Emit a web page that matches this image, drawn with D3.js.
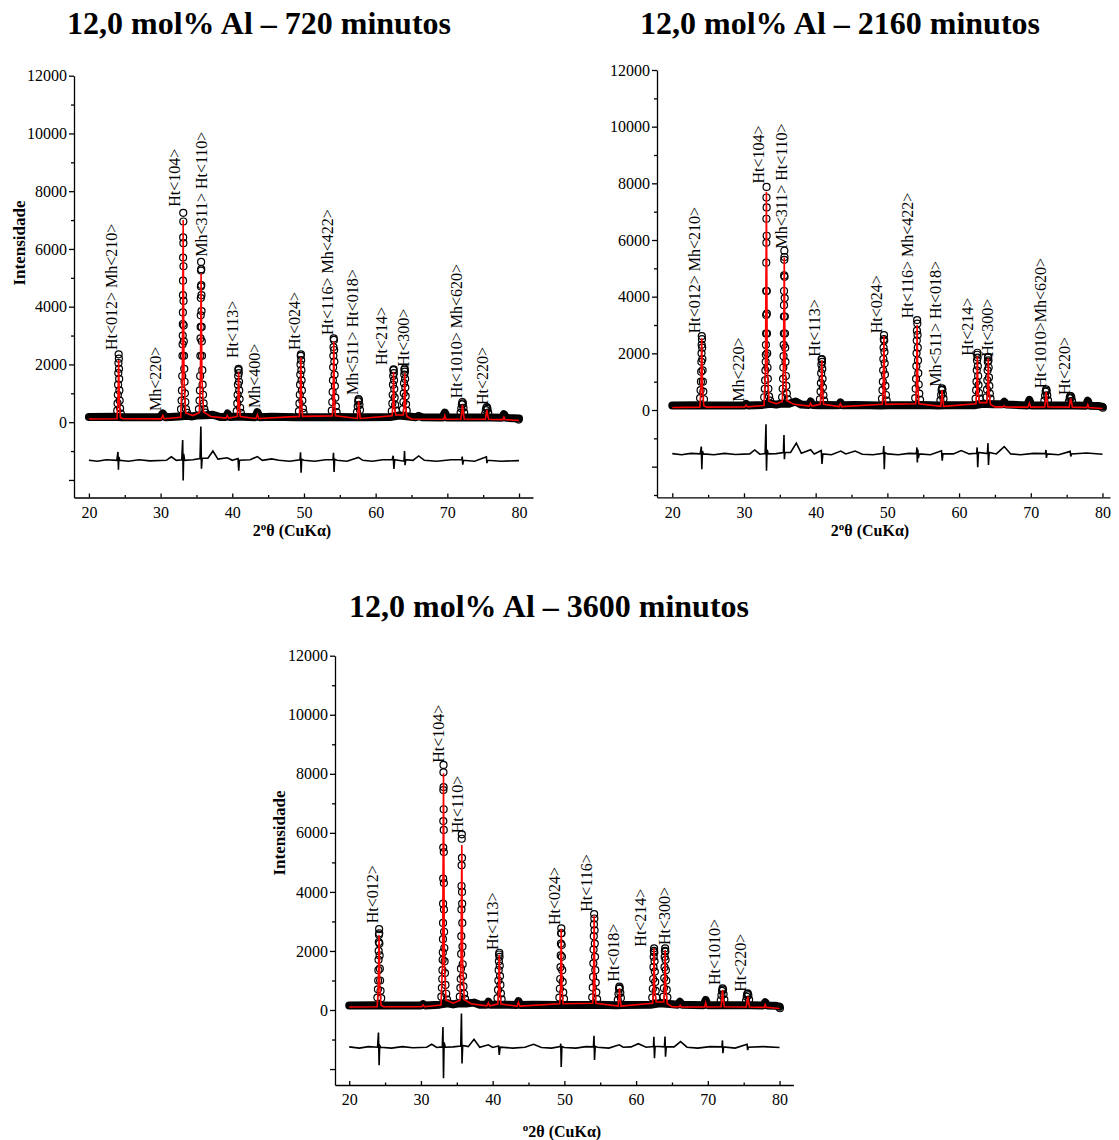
<!DOCTYPE html>
<html>
<head>
<meta charset="utf-8">
<script src="https://cdnjs.cloudflare.com/ajax/libs/d3/7.8.5/d3.min.js"></script>
<style>
  body { margin: 0; background: #fff; }
  svg { display: block; }
</style>
</head>
<body>
<svg id="chart" width="1119" height="1140"></svg>
<script>
// -----------------------------
// DATA
// -----------------------------
let titles = ["12,0 mol% Al \u2013 720 minutos", "12,0 mol% Al \u2013 2160 minutos", "12,0 mol% Al \u2013 3600 minutos"];

let xTicks = [20, 30, 40, 50, 60, 70, 80];
let xMinor = [25, 35, 45, 55, 65, 75];
let yTicks = [-2000, 0, 2000, 4000, 6000, 8000, 10000, 12000];
let yMinor = [-3000, -1000, 1000, 3000, 5000, 7000, 9000, 11000];

// ---- 720 minutos ----
let band720 = [[20,180],[23.6,185],[24.5,175],[29.9,170],[30.3,300],[30.7,170],[32.6,200],[33.7,220],[34.4,200],[35.0,230],[36.3,240],[37.3,260],[38.3,180],[39.1,180],[39.35,300],[39.6,180],[40.4,190],[41.4,190],[43.2,170],[43.5,350],[43.8,170],[45.5,190],[49.0,170],[50.1,170],[53.6,170],[54.8,180],[57.2,170],[58.1,170],[62.0,180],[63.3,230],[64.6,200],[65.6,170],[66.0,220],[66.5,170],[69.3,160],[69.65,330],[70.0,160],[71.7,160],[72.6,160],[75.1,160],[76.0,160],[77.6,150],[77.9,280],[78.2,150],[80,130]];

let obs720 = [
  [23.95,400],[24.0,650],[24.04,950],[24.07,1300],[24.1,1700],[24.12,2050],[24.15,2350],[24.18,2200],[24.2,1850],[24.22,1500],[24.25,1100],[24.29,750],[24.35,480],[24.45,300],
  [32.85,450],[32.93,750],[32.98,1100],[33.02,1600],[33.05,2300],[33.07,2700],[33.09,3000],[33.1,3400],[33.11,3800],[33.12,4400],[33.13,4900],[33.14,5700],[33.15,6400],[33.16,7250],[33.17,6950],[33.18,6200],[33.19,5400],[33.2,4200],[33.22,3350],[33.24,2800],[33.27,2300],[33.3,1850],[33.34,1400],[33.39,1000],[33.45,700],[33.55,450],[33.7,320],
  [35.35,450],[35.43,750],[35.48,1100],[35.52,1600],[35.55,2300],[35.57,2900],[35.59,3300],[35.6,3700],[35.61,4300],[35.62,4700],[35.64,5250],[35.65,5550],[35.67,5300],[35.68,4750],[35.7,4400],[35.71,3850],[35.73,3300],[35.75,2800],[35.78,2300],[35.82,1800],[35.86,1300],[35.92,950],[36.0,650],[36.1,450],[36.25,330],
  [40.62,380],[40.7,650],[40.75,950],[40.79,1300],[40.82,1600],[40.85,1800],[40.88,1850],[40.91,1700],[40.94,1400],[40.97,1100],[41.02,800],[41.1,500],[41.2,320],
  [49.3,380],[49.37,650],[49.42,950],[49.46,1300],[49.49,1650],[49.52,2000],[49.55,2300],[49.58,2350],[49.61,2150],[49.64,1800],[49.67,1450],[49.71,1100],[49.77,750],[49.85,480],[49.95,320],
  [53.88,400],[53.95,700],[54.0,1050],[54.04,1450],[54.07,1900],[54.1,2300],[54.12,2600],[54.15,2900],[54.18,2850],[54.21,2500],[54.24,2100],[54.27,1650],[54.31,1250],[54.37,850],[54.45,550],[54.55,350],
  [57.4,350],[57.5,550],[57.57,720],[57.62,800],[57.67,760],[57.74,600],[57.82,420],
  [62.25,380],[62.33,650],[62.38,950],[62.42,1300],[62.45,1600],[62.48,1800],[62.51,1830],[62.54,1700],[62.57,1450],[62.6,1150],[62.65,850],[62.72,600],[62.82,400],
  [63.8,450],[63.87,700],[63.92,1000],[63.96,1350],[63.99,1650],[64.02,1820],[64.05,1860],[64.08,1750],[64.11,1500],[64.14,1200],[64.18,900],[64.24,620],[64.33,400],
  [71.85,320],[71.95,480],[72.03,620],[72.1,700],[72.17,650],[72.25,500],[72.35,330],
  [75.28,300],[75.38,420],[75.45,500],[75.52,520],[75.6,460],[75.7,330],
  [79.95,90]
];

let calc720 = [[20,110],[23.9,120],[24.05,700],[24.15,2150],[24.25,700],[24.4,160],[24.8,120],[30.1,115],[30.3,230],[30.5,120],[32.8,170],[33.03,1500],[33.15,7000],[33.27,1500],[33.5,320],[34.5,230],[35.4,330],[35.55,1500],[35.65,5150],[35.77,1500],[36.0,350],[37.0,200],[39.1,140],[39.3,230],[39.5,140],[40.7,200],[40.8,700],[40.88,1750],[40.97,700],[41.1,200],[43.3,130],[43.5,260],[43.7,130],[49.35,200],[49.47,700],[49.56,2250],[49.66,700],[49.8,200],[53.95,220],[54.07,800],[54.16,2800],[54.25,800],[54.4,220],[57.45,130],[57.57,450],[57.63,720],[57.7,450],[57.85,130],[62.3,220],[62.42,600],[62.5,1750],[62.58,600],[62.8,250],[63.85,250],[63.97,600],[64.06,1700],[64.15,600],[64.35,200],[65.0,110],[69.5,100],[69.65,230],[69.8,100],[71.9,110],[72.05,400],[72.11,600],[72.2,400],[72.35,110],[75.3,100],[75.46,330],[75.52,430],[75.6,300],[75.75,100],[77.75,90],[77.9,180],[78.05,90],[80,60]];

let diff720 = [[20,-1320],[21.2,-1350],[22.4,-1300],[23.9,-1320],[24.05,-1030],[24.12,-1650],[24.18,-1200],[24.3,-1320],[25.5,-1350],[27.0,-1300],[28.5,-1340],[30.8,-1320],[31.5,-1200],[32.2,-1320],[32.95,-1300],[33.08,-620],[33.15,-2020],[33.22,-1100],[33.35,-1320],[34.5,-1300],[35.5,-1260],[35.62,-150],[35.7,-1610],[35.8,-1250],[36.6,-1250],[37.3,-1000],[38.0,-1280],[39.3,-1230],[40.0,-1320],[40.8,-1260],[40.9,-1680],[41.0,-1320],[42.5,-1300],[43.5,-1190],[44.2,-1320],[45.5,-1270],[46.5,-1320],[48.0,-1350],[49.45,-1300],[49.52,-1040],[49.6,-1750],[49.68,-1280],[50.0,-1320],[51.5,-1350],[53.0,-1300],[54.05,-1300],[54.12,-1060],[54.2,-1720],[54.28,-1280],[54.6,-1320],[56.0,-1350],[57.6,-1220],[58.2,-1320],[59.5,-1350],[61.0,-1300],[62.3,-1300],[62.45,-1160],[62.55,-1620],[62.65,-1300],[63.95,-1350],[64.03,-1000],[64.1,-1490],[64.2,-1300],[65.2,-1320],[66.0,-1170],[66.8,-1320],[68.5,-1350],[70.5,-1300],[72.0,-1300],[72.08,-1190],[72.15,-1470],[72.25,-1320],[73.8,-1350],[75.45,-1200],[75.52,-1420],[75.6,-1320],[77.5,-1350],[80,-1330]];

let lab720 = [
  ["Ht<012> Mh<210>", 23.96, 2500], ["Mh<220>", 30.05, 390], ["Ht<104>", 32.7, 7460],
  ["Mh<311> Ht<110>", 36.47, 5730], ["Ht<113>", 40.8, 2220], ["Mh<400>", 43.87, 490],
  ["Ht<024>", 49.44, 2500], ["Ht<116> Mh<422>", 54.0, 3020], ["Mh<511> Ht<018>", 57.57, 940],
  ["Ht<214>", 61.53, 1980], ["Ht<300>", 64.69, 1920], ["Ht<1010> Mh<620>", 72.0, 830], ["Ht<220>", 75.7, 595]
];

// ---- 2160 minutos ----
let band2160 = [[20,160],[23.6,165],[24.5,160],[30.0,155],[30.3,220],[30.6,160],[32.6,180],[33.7,220],[34.5,190],[35.0,220],[36.3,220],[37.2,300],[38.0,190],[39.05,180],[39.3,300],[39.55,180],[40.5,170],[41.3,180],[43.2,170],[43.45,270],[43.7,170],[45.5,180],[49.1,160],[50.1,170],[53.7,170],[54.8,180],[57.2,160],[58.1,170],[62.1,170],[63.3,220],[64.7,200],[66.0,200],[66.3,290],[66.6,190],[69.5,160],[69.8,360],[70.1,160],[71.8,160],[72.7,160],[75.2,160],[76.0,160],[77.7,150],[77.95,330],[78.2,150],[79.4,140],[80,120]];

let obs2160 = [
  [23.88,420],[23.95,700],[24.0,1000],[24.03,1350],[24.06,1700],[24.08,2000],[24.1,2300],[24.12,2610],[24.14,2500],[24.17,2200],[24.2,1800],[24.23,1400],[24.27,1000],[24.33,650],[24.42,380],
  [32.82,450],[32.9,750],[32.95,1050],[32.99,1400],[33.02,1700],[33.04,1950],[33.06,2300],[33.08,2700],[33.09,3350],[33.1,4200],[33.11,5200],[33.12,5900],[33.13,6750],[33.14,7500],[33.15,7875],[33.16,7150],[33.17,6150],[33.18,4200],[33.19,3400],[33.21,2700],[33.24,2000],[33.28,1500],[33.33,1100],[33.4,750],[33.5,480],[33.65,330],
  [35.32,450],[35.4,750],[35.45,1100],[35.49,1500],[35.52,1900],[35.54,2300],[35.56,2700],[35.57,3300],[35.58,3700],[35.59,4200],[35.6,4750],[35.62,5300],[35.63,5620],[35.65,5400],[35.66,4700],[35.68,3950],[35.7,3300],[35.72,2700],[35.75,2200],[35.79,1700],[35.84,1200],[35.9,850],[35.98,580],[36.1,380],
  [40.6,380],[40.68,650],[40.73,950],[40.77,1300],[40.8,1600],[40.83,1780],[40.86,1800],[40.89,1700],[40.92,1450],[40.96,1100],[41.01,800],[41.08,520],[41.18,330],
  [49.25,400],[49.32,700],[49.37,1000],[49.41,1400],[49.44,1800],[49.47,2200],[49.5,2500],[49.53,2645],[49.56,2450],[49.59,2050],[49.62,1650],[49.66,1250],[49.72,850],[49.8,530],[49.9,330],
  [53.88,420],[53.95,750],[54.0,1100],[54.04,1550],[54.07,2000],[54.1,2450],[54.12,2800],[54.15,3175],[54.18,3050],[54.21,2650],[54.24,2200],[54.27,1750],[54.31,1300],[54.37,900],[54.45,580],[54.56,360],
  [57.4,340],[57.5,530],[57.57,700],[57.62,765],[57.67,720],[57.74,570],[57.83,400],
  [62.3,400],[62.38,700],[62.43,1000],[62.47,1400],[62.5,1750],[62.53,1950],[62.56,2020],[62.59,1850],[62.62,1550],[62.66,1200],[62.71,880],[62.78,600],[62.88,400],
  [63.82,450],[63.89,720],[63.94,1050],[63.98,1400],[64.01,1700],[64.04,1850],[64.07,1880],[64.1,1750],[64.13,1500],[64.17,1150],[64.22,850],[64.29,580],[64.38,400],
  [71.9,330],[72.0,500],[72.08,650],[72.15,730],[72.22,680],[72.3,520],[72.4,340],
  [75.33,300],[75.43,420],[75.5,480],[75.57,495],[75.65,440],[75.75,320],
  [80.05,80]
];

let calc2160 = [[20,90],[23.85,100],[24.0,750],[24.11,2530],[24.22,750],[24.4,140],[24.8,100],[30.1,110],[30.3,176],[30.5,110],[32.8,160],[33.0,1500],[33.13,7700],[33.25,1500],[33.5,300],[34.5,220],[35.35,300],[35.5,1500],[35.62,5385],[35.74,1500],[36.0,330],[37.0,200],[39.1,140],[39.3,240],[39.5,140],[40.65,200],[40.76,700],[40.86,1750],[40.96,700],[41.1,200],[43.25,120],[43.45,220],[43.65,120],[49.3,200],[49.42,750],[49.52,2600],[49.62,750],[49.78,200],[53.95,220],[54.06,850],[54.15,3000],[54.25,850],[54.4,220],[57.45,130],[57.56,430],[57.63,700],[57.7,430],[57.85,130],[62.35,220],[62.46,650],[62.55,1900],[62.64,650],[62.85,260],[63.87,260],[63.98,650],[64.07,1820],[64.16,650],[64.38,200],[65.0,110],[66.1,110],[66.3,150],[66.5,105],[69.6,100],[69.8,240],[70.0,100],[71.95,110],[72.08,420],[72.15,645],[72.23,420],[72.4,110],[75.35,100],[75.5,320],[75.57,410],[75.65,300],[75.8,100],[77.8,90],[77.95,190],[78.1,90],[80,55]];

let diff2160 = [[20,-1540],[21.3,-1580],[22.6,-1530],[23.9,-1550],[24.05,-1290],[24.12,-2090],[24.2,-1450],[24.35,-1550],[25.8,-1580],[27.3,-1530],[28.8,-1570],[30.8,-1550],[31.5,-1410],[32.2,-1560],[32.95,-1540],[33.07,-500],[33.14,-2140],[33.22,-1400],[33.4,-1550],[34.5,-1540],[35.5,-1500],[35.58,-880],[35.64,-1740],[35.72,-1500],[36.5,-1500],[37.3,-1170],[38.0,-1530],[39.3,-1400],[39.8,-1550],[40.78,-1430],[40.88,-1900],[41.0,-1550],[42.2,-1580],[43.5,-1450],[44.2,-1550],[45.5,-1450],[46.5,-1560],[48.0,-1580],[49.42,-1530],[49.5,-1270],[49.57,-2090],[49.65,-1500],[50.0,-1550],[51.5,-1580],[53.0,-1530],[54.05,-1540],[54.12,-1320],[54.18,-1850],[54.25,-1400],[54.32,-1700],[54.45,-1550],[56.0,-1580],[57.55,-1440],[57.65,-1790],[57.75,-1550],[59.2,-1550],[60.3,-1430],[61.4,-1550],[62.45,-1530],[62.52,-1320],[62.6,-2020],[62.7,-1500],[63.95,-1540],[64.03,-1170],[64.1,-1940],[64.2,-1500],[65.2,-1550],[66.3,-1290],[67.2,-1550],[68.6,-1580],[70.4,-1530],[72.05,-1540],[72.12,-1410],[72.18,-1690],[72.28,-1550],[73.9,-1580],[75.5,-1460],[75.58,-1640],[75.68,-1550],[77.8,-1520],[80,-1560]];

let lab2160 = [
  ["Ht<012> Mh<210>", 23.86, 2705], ["Mh<220>", 30.0, 293], ["Ht<104>", 32.79, 7995],
  ["Mh<311> Ht<110>", 35.96, 5700], ["Ht<113>", 40.6, 1880], ["Ht<024>", 49.2, 2705],
  ["Ht<116> Mh<422>", 53.6, 3234], ["Mh<511> Ht<018>", 57.43, 822], ["Ht<214>", 61.9, 1915],
  ["Ht<300>", 64.77, 1880], ["Ht<1010>Mh<620>", 72.12, 765], ["Ht<220>", 75.45, 530]
];

// ---- 3600 minutos ----
let band3600 = [[20,150],[23.7,160],[24.6,150],[30.0,150],[30.3,200],[30.6,150],[32.6,180],[33.7,230],[34.5,190],[35.1,220],[36.3,220],[37.4,250],[38.2,180],[39.15,180],[39.4,280],[39.65,180],[40.6,180],[41.4,180],[43.35,170],[43.6,300],[43.85,170],[45.6,180],[49.1,170],[50.1,170],[53.7,170],[54.8,180],[57.2,160],[58.1,170],[62.0,180],[63.3,230],[64.7,200],[65.8,180],[66.1,280],[66.4,180],[69.4,160],[69.7,340],[70.0,160],[71.6,160],[72.6,160],[75.1,160],[76.0,160],[77.7,150],[78.0,260],[78.3,150],[79.5,140],[80,110]];

let obs3600 = [
  [23.93,420],[24.0,700],[24.04,1000],[24.07,1350],[24.09,1700],[24.11,2000],[24.13,2300],[24.15,2550],[24.17,2740],[24.19,2600],[24.21,2250],[24.24,1850],[24.27,1400],[24.31,1000],[24.37,650],[24.46,400],
  [32.85,450],[32.92,750],[32.97,1050],[33.0,1350],[33.03,1700],[33.05,1950],[33.07,2400],[33.08,2950],[33.09,3600],[33.1,4450],[33.11,5500],[33.12,6400],[33.13,7450],[33.14,8050],[33.15,8300],[33.16,7550],[33.17,6800],[33.18,6100],[33.19,5350],[33.2,4300],[33.21,3400],[33.23,2650],[33.26,2100],[33.3,1650],[33.35,1250],[33.42,850],[33.52,550],[33.65,350],
  [35.42,450],[35.5,750],[35.55,1050],[35.58,1400],[35.61,1900],[35.63,2500],[35.65,3400],[35.66,4200],[35.67,4900],[35.69,5800],[35.7,5950],[35.72,5150],[35.73,4000],[35.75,3600],[35.77,2950],[35.79,2150],[35.82,1550],[35.87,1150],[35.93,800],[36.02,550],[36.15,380],
  [40.68,400],[40.75,680],[40.8,1000],[40.84,1350],[40.87,1650],[40.9,1880],[40.93,1940],[40.96,1800],[40.99,1500],[41.03,1150],[41.08,850],[41.15,560],[41.25,360],
  [49.3,420],[49.37,720],[49.42,1050],[49.46,1450],[49.49,1850],[49.52,2250],[49.55,2600],[49.57,2767],[49.6,2600],[49.63,2200],[49.66,1800],[49.7,1350],[49.76,950],[49.84,600],[49.95,380],
  [53.88,430],[53.95,760],[54.0,1120],[54.04,1580],[54.07,2050],[54.1,2500],[54.12,2900],[54.15,3250],[54.18,3100],[54.21,2700],[54.24,2250],[54.27,1800],[54.31,1350],[54.37,930],[54.45,600],[54.56,370],
  [57.45,340],[57.55,540],[57.62,720],[57.67,790],[57.72,740],[57.8,580],[57.88,410],
  [62.25,420],[62.33,720],[62.38,1050],[62.42,1450],[62.45,1800],[62.48,2000],[62.51,2090],[62.54,1950],[62.57,1650],[62.61,1300],[62.66,950],[62.73,650],[62.83,420],
  [63.8,450],[63.87,740],[63.92,1080],[63.96,1450],[63.99,1800],[64.02,2000],[64.05,2090],[64.08,1980],[64.11,1700],[64.15,1350],[64.2,1000],[64.27,680],[64.36,430],
  [71.8,330],[71.9,500],[71.98,650],[72.05,735],[72.12,690],[72.2,530],[72.3,350],
  [75.33,310],[75.43,450],[75.5,540],[75.57,565],[75.65,500],[75.75,350],
  [80.05,60]
];

let calc3600 = [[20,100],[23.9,110],[24.05,750],[24.16,2540],[24.27,750],[24.45,150],[24.8,110],[30.1,110],[30.3,170],[30.5,110],[32.8,170],[33.02,1600],[33.15,8020],[33.27,1600],[33.5,330],[34.5,230],[35.45,330],[35.58,1550],[35.7,5590],[35.82,1550],[36.05,350],[37.0,210],[39.2,140],[39.4,240],[39.6,140],[40.72,200],[40.83,720],[40.92,1870],[41.02,720],[41.15,200],[43.4,130],[43.6,260],[43.8,130],[49.35,210],[49.47,800],[49.56,2750],[49.66,800],[49.82,210],[53.95,230],[54.06,900],[54.15,3200],[54.25,900],[54.4,230],[57.5,130],[57.61,430],[57.68,735],[57.75,430],[57.9,130],[62.3,230],[62.42,700],[62.5,2080],[62.59,700],[62.8,270],[63.85,270],[63.96,700],[64.05,2030],[64.14,700],[64.36,210],[65.0,110],[66.0,110],[66.15,160],[66.3,105],[69.55,100],[69.7,240],[69.85,100],[71.85,110],[71.98,420],[72.05,680],[72.13,420],[72.3,110],[75.35,100],[75.5,330],[75.57,450],[75.65,310],[75.8,100],[77.85,90],[78.0,180],[78.15,90],[80,50]];

let diff3600 = [[20,-1250],[21.4,-1290],[22.7,-1240],[23.95,-1260],[24.08,-760],[24.17,-1870],[24.25,-1200],[24.4,-1260],[25.9,-1290],[27.4,-1240],[28.9,-1280],[30.8,-1260],[31.5,-1160],[32.2,-1270],[32.98,-1250],[33.07,-580],[33.15,-2310],[33.23,-1100],[33.4,-1260],[34.5,-1250],[35.55,-1220],[35.65,-120],[35.73,-1810],[35.82,-1200],[36.6,-1240],[37.4,-990],[38.2,-1260],[39.4,-1180],[40.0,-1270],[40.82,-1220],[40.92,-1520],[41.05,-1260],[42.8,-1290],[44.5,-1260],[45.7,-1160],[46.8,-1270],[48.2,-1290],[49.42,-1240],[49.5,-1140],[49.56,-1930],[49.65,-1240],[50.0,-1270],[51.6,-1290],[53.0,-1240],[54.05,-1250],[54.13,-870],[54.2,-1690],[54.3,-1230],[54.6,-1260],[56.2,-1290],[57.65,-1180],[58.2,-1260],[59.3,-1250],[60.3,-1140],[61.4,-1260],[62.42,-1240],[62.48,-910],[62.56,-1630],[62.65,-1230],[63.95,-1250],[64.03,-900],[64.1,-1580],[64.2,-1240],[65.3,-1250],[66.2,-1070],[67.1,-1260],[68.6,-1290],[70.3,-1240],[71.97,-1250],[72.04,-1030],[72.1,-1460],[72.2,-1250],[73.8,-1290],[75.47,-1160],[75.55,-1360],[75.65,-1260],[77.7,-1240],[80,-1270]];

let lab3600 = [
  ["Ht<012>", 24.06, 2936], ["Ht<104>", 33.22, 8376], ["Ht<110>", 35.83, 5985],
  ["Ht<113>", 40.8, 2032], ["Ht<024>", 49.4, 2879], ["Ht<116>", 53.82, 3330],
  ["Ht<018>", 57.67, 960], ["Ht<214>", 61.39, 2145], ["Ht<300>", 64.74, 2200],
  ["Ht<1010>", 71.71, 847], ["Ht<220>", 75.34, 620]
];

// -----------------------------
// SETUP
// -----------------------------
let serif = '"Liberation Serif", "Times New Roman", serif';
let svg = d3.select("#chart").attr("font-family", serif);

let panels = [
  { title: titles[0], tx: 259, ty: 34, left: 74, right: 533, top: 75.7, bottom: 497.5,
    xDomain: [17.92, 81.95], yDomain: [-2608, 12000],
    band: band720, obs: obs720, calc: calc720, diff: diff720, labels: lab720,
    yLabel: { x: 25, y: 243 }, xLabel: { x: 292, y: 536, pre: false } },
  { title: titles[1], tx: 840, ty: 34, left: 657, right: 1110, top: 70, bottom: 497.3,
    xDomain: [17.87, 81.05], yDomain: [-3081, 12000],
    band: band2160, obs: obs2160, calc: calc2160, diff: diff2160, labels: lab2160,
    yLabel: null, xLabel: { x: 870, y: 536, pre: false } },
  { title: titles[2], tx: 549, ty: 617, left: 335, right: 793.4, top: 655.7, bottom: 1085,
    xDomain: [18.02, 81.93], yDomain: [-2540, 12000],
    band: band3600, obs: obs3600, calc: calc3600, diff: diff3600, labels: lab3600,
    yLabel: { x: 285, y: 833 }, xLabel: { x: 562, y: 1137, pre: true } }
];

function styleAxis(g) {
  g.attr("font-family", serif).attr("font-size", 16);
  g.selectAll(".domain, .tick line").attr("stroke", "#000").attr("stroke-width", 1.3);
  g.selectAll(".tick text").attr("fill", "#000");
}

// -----------------------------
// DRAW ONE PANEL
// -----------------------------
function drawPanel(p) {
  let x = d3.scaleLinear().domain(p.xDomain).range([p.left, p.right]);
  let y = d3.scaleLinear().domain(p.yDomain).range([p.bottom, p.top]);
  let line = d3.line().x(d => x(d[0])).y(d => y(d[1]));
  let g = svg.append("g");

  // title
  g.append("text")
   .attr("x", p.tx).attr("y", p.ty)
   .attr("text-anchor", "middle")
   .attr("font-size", 32).attr("font-weight", "bold")
   .text(p.title);

  // background points are so dense they merge into a black band
  g.append("path").datum(p.band)
   .attr("d", line)
   .attr("fill", "none").attr("stroke", "#000")
   .attr("stroke-width", 8)
   .attr("stroke-linejoin", "round").attr("stroke-linecap", "round");

  // observed points
  g.selectAll("circle.obs").data(p.obs).enter()
   .append("circle")
   .attr("class", "obs")
   .attr("cx", d => x(d[0]))
   .attr("cy", d => y(d[1]))
   .attr("r", 3.5)
   .attr("fill", "none").attr("stroke", "#000").attr("stroke-width", 1.2);

  // calculated profile
  g.append("path").datum(p.calc)
   .attr("d", line)
   .attr("fill", "none").attr("stroke", "#ff0000").attr("stroke-width", 1.6);

  // difference curve
  g.append("path").datum(p.diff)
   .attr("d", line)
   .attr("fill", "none").attr("stroke", "#000").attr("stroke-width", 1.6);

  // axes
  let gx = g.append("g")
   .attr("transform", `translate(0, ${p.bottom})`)
   .call(d3.axisBottom(x).tickValues(xTicks).tickSizeInner(-4).tickSizeOuter(0).tickPadding(9));
  styleAxis(gx);

  let gxm = g.append("g")
   .attr("transform", `translate(0, ${p.bottom})`)
   .call(d3.axisBottom(x).tickValues(xMinor).tickSizeInner(-2.5).tickSizeOuter(0).tickFormat(""));
  gxm.select(".domain").remove();
  styleAxis(gxm);

  let yIn = v => v >= p.yDomain[0] && v <= p.yDomain[1];
  let gy = g.append("g")
   .attr("transform", `translate(${p.left}, 0)`)
   .call(d3.axisLeft(y).tickValues(yTicks.filter(yIn)).tickSizeInner(5).tickSizeOuter(0).tickPadding(2)
          .tickFormat(d => d < 0 ? "" : d));
  styleAxis(gy);

  let gym = g.append("g")
   .attr("transform", `translate(${p.left}, 0)`)
   .call(d3.axisLeft(y).tickValues(yMinor.filter(yIn)).tickSizeInner(3).tickSizeOuter(0).tickFormat(""));
  gym.select(".domain").remove();
  styleAxis(gym);

  // peak labels (rotated)
  g.selectAll("text.peak").data(p.labels).enter()
   .append("text")
   .attr("class", "peak")
   .attr("transform", d => `translate(${x(d[1])}, ${y(d[2])}) rotate(-90)`)
   .attr("font-size", 16)
   .text(d => d[0]);

  // y label
  if (p.yLabel) {
    g.append("text")
     .attr("transform", `translate(${p.yLabel.x}, ${p.yLabel.y}) rotate(-90)`)
     .attr("text-anchor", "middle")
     .attr("font-size", 17).attr("font-weight", "bold")
     .text("Intensidade");
  }

  // x label
  let xl = g.append("text")
   .attr("x", p.xLabel.x).attr("y", p.xLabel.y)
   .attr("text-anchor", "middle")
   .attr("font-size", 16).attr("font-weight", "bold");
  if (p.xLabel.pre) {
    xl.append("tspan").attr("font-size", 11).attr("dy", -6).text("o");
    xl.append("tspan").attr("dy", 6).text("2\u03b8 (CuK\u03b1)");
  } else {
    xl.append("tspan").text("2");
    xl.append("tspan").attr("font-size", 11).attr("dy", -6).text("o");
    xl.append("tspan").attr("dy", 6).text("\u03b8 (CuK\u03b1)");
  }
}

panels.forEach(drawPanel);
</script>
</body>
</html>
